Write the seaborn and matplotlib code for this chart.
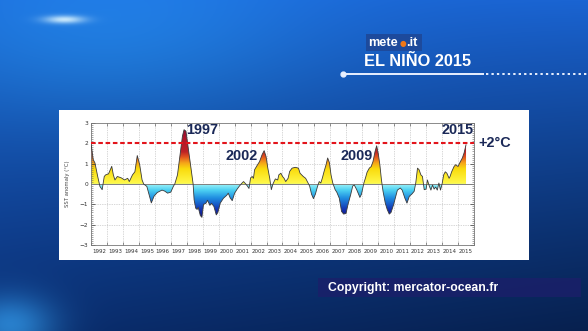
import numpy as np
import pandas as pd
import matplotlib
matplotlib.use("Agg")
import matplotlib.pyplot as plt
from matplotlib.colors import LinearSegmentedColormap
from matplotlib.patches import Rectangle
import seaborn as sns

# ---------------- data ----------------
years = [
    1992.00, 1992.14, 1992.25, 1992.42, 1992.56, 1992.70, 1992.83, 1992.92, 1993.10, 1993.30,
    1993.40, 1993.50, 1993.65, 1993.90, 1994.10, 1994.30, 1994.40, 1994.60, 1994.75, 1994.90,
    1995.05, 1995.20, 1995.30, 1995.50, 1995.65, 1995.78, 1995.95, 1996.15, 1996.45, 1996.62,
    1996.80, 1997.00, 1997.17, 1997.25, 1997.42, 1997.58, 1997.73, 1997.83, 1997.95, 1998.15,
    1998.30, 1998.40, 1998.46, 1998.56, 1998.65, 1998.72, 1998.85, 1998.95, 1999.05, 1999.20,
    1999.30, 1999.45, 1999.55, 1999.70, 1999.85, 1999.95, 2000.10, 2000.30, 2000.50, 2000.60,
    2000.72, 2000.85, 2001.00, 2001.16, 2001.30, 2001.47, 2001.56, 2001.70, 2001.80, 2001.90,
    2002.00, 2002.10, 2002.18, 2002.25, 2002.40, 2002.56, 2002.72, 2002.85, 2002.97, 2003.08,
    2003.20, 2003.30, 2003.40, 2003.55, 2003.70, 2003.77, 2003.90, 2004.00, 2004.10, 2004.20,
    2004.35, 2004.45, 2004.60, 2004.80, 2005.00, 2005.10, 2005.30, 2005.45, 2005.60, 2005.70,
    2005.82, 2005.94, 2006.06, 2006.20, 2006.30, 2006.40, 2006.50, 2006.60, 2006.73, 2006.83,
    2006.94, 2007.04, 2007.15, 2007.30, 2007.40, 2007.56, 2007.70, 2007.83, 2007.98, 2008.10,
    2008.27, 2008.40, 2008.50, 2008.65, 2008.85, 2008.95, 2009.10, 2009.20, 2009.30, 2009.44,
    2009.56, 2009.67, 2009.80, 2009.90, 2010.00, 2010.10, 2010.20, 2010.30, 2010.44, 2010.56,
    2010.69, 2010.80, 2010.96, 2011.10, 2011.20, 2011.38, 2011.50, 2011.67, 2011.80, 2011.95,
    2012.10, 2012.25, 2012.35, 2012.46, 2012.56, 2012.67, 2012.77, 2012.88, 2013.00, 2013.08,
    2013.20, 2013.30, 2013.40, 2013.50, 2013.60, 2013.70, 2013.80, 2013.90, 2014.00, 2014.10,
    2014.20, 2014.30, 2014.44, 2014.50, 2014.60, 2014.75, 2014.85, 2015.00, 2015.10, 2015.27,
    2015.38, 2015.50,
]
anomaly = [
    2.00, 1.20, 1.03, 0.37, -0.12, -0.28, 0.37, 0.45, 0.50, 0.87,
    0.45, 0.20, 0.37, 0.30, 0.20, 0.28, 0.12, 0.45, 0.60, 1.40,
    0.95, 0.20, 0.00, -0.12, -0.55, -0.93, -0.60, -0.42, -0.30, -0.35,
    -0.45, -0.40, -0.10, 0.00, 0.45, 1.43, 2.35, 2.67, 2.60, 1.45,
    0.62, 0.00, -0.77, -1.19, -1.25, -1.15, -1.55, -1.64, -1.00, -0.95,
    -0.80, -1.05, -0.95, -1.10, -1.52, -1.40, -0.94, -0.70, -0.56, -0.45,
    -0.68, -0.82, -0.45, -0.25, -0.10, 0.05, 0.12, 0.00, -0.10, -0.22,
    0.30, 0.37, 0.28, 0.70, 0.90, 1.10, 1.44, 1.64, 1.35, 0.78,
    0.28, -0.28, 0.00, 0.25, 0.20, 0.45, 0.53, 0.37, 0.28, 0.12,
    0.28, 0.62, 0.78, 0.82, 0.78, 0.53, 0.37, 0.28, 0.05, -0.10,
    -0.50, -0.72, -0.50, -0.10, 0.12, 0.05, 0.30, 0.60, 0.95, 1.28,
    1.05, 0.45, 0.05, -0.28, -0.40, -0.70, -1.35, -1.48, -1.45, -1.02,
    -0.53, -0.10, -0.05, -0.28, -0.66, -0.50, 0.05, 0.30, 0.58, 0.78,
    0.86, 1.10, 1.60, 1.88, 1.50, 0.95, 0.20, -0.36, -0.94, -1.25,
    -1.48, -1.40, -1.02, -0.60, -0.30, -0.20, -0.30, -0.70, -0.94, -0.60,
    -0.50, -0.36, 0.05, 0.78, 0.70, 0.45, 0.37, -0.28, -0.25, 0.20,
    -0.10, -0.30, -0.05, -0.25, -0.15, -0.30, 0.05, -0.30, 0.00, 0.45,
    0.60, 0.53, 0.28, 0.37, 0.60, 0.86, 0.95, 0.86, 1.03, 1.28,
    1.53, 1.93,
]
year_labels = [str(y) for y in range(1992, 2016)]
ytick_values = [-3, -2, -1, 0, 1, 2, 3]
threshold = 2.0
event_labels = ["1997", "2002", "2009", "2015"]
event_pos_px = [(202, 130), (242, 156), (357, 156), (458, 130)]

df = pd.DataFrame({"year": years, "anomaly": anomaly})

W, H = 588, 331
fig = plt.figure(figsize=(W / 100, H / 100), dpi=100)

# ---------------- background ----------------
yy, xx = np.mgrid[0:H, 0:W].astype(float)
t = yy / H
top = np.array([26, 100, 210], float)
bot = np.array([10, 46, 112], float)
img = top[None, None, :] * (1 - t[..., None]) + bot[None, None, :] * t[..., None]
shade = 1 - 0.30 * (xx / W) * t
img *= shade[..., None]
broad = np.exp(-(((xx - 110) / 210) ** 2 + ((yy - 40) / 90) ** 2))
img += broad[..., None] * np.array([8, 30, 25])
glow = 0.85 * np.exp(-(((xx - 64) / 20) ** 2 + ((yy - 19) / 4) ** 2))
img = img * (1 - glow[..., None]) + np.array([225, 248, 255]) * glow[..., None]
corner = np.exp(-(((xx - 10) / 45) ** 2 + ((yy - 325) / 30) ** 2))
img += corner[..., None] * np.array([30, 80, 90])
img = np.clip(img, 0, 255) / 255.0

bg = fig.add_axes([0, 0, 1, 1])
bg.imshow(img, extent=[0, W, H, 0], aspect="auto", zorder=0)
bg.set_xlim(0, W)
bg.set_ylim(H, 0)
bg.axis("off")
bg.set_zorder(0)

# white panel
bg.add_patch(Rectangle((59, 110), 470, 150, facecolor="white", edgecolor="none", zorder=1))

# copyright band
bg.add_patch(Rectangle((318, 278), 263, 19, facecolor="#1b1f6a", edgecolor="none", alpha=0.8, zorder=1))
bg.text(328, 288, "Copyright: mercator-ocean.fr", color="white", fontsize=8.8,
        family="Liberation Sans", weight="bold", va="center", ha="left", zorder=2)

# logo and title
bg.add_patch(Rectangle((366, 34), 56, 17, facecolor="#1d4a9c", edgecolor="none", zorder=1))
bg.text(368.5, 43, "mete", color="white", fontsize=9.2, family="Liberation Sans",
        weight="bold", va="center", ha="left", zorder=2)
bg.text(403, 43.8, "●", color="#f07818", fontsize=5.5, family="DejaVu Sans",
        va="center", ha="center", zorder=2)
bg.text(406.5, 43, ".it", color="white", fontsize=9.2, family="Liberation Sans",
        weight="bold", va="center", ha="left", zorder=2)
bg.text(364, 61.5, "EL NIÑO 2015", color="white", fontsize=11.8, family="Liberation Sans",
        weight="bold", va="center", ha="left", zorder=2)
bg.plot([343, 484], [74, 74], color="#e8f0ff", lw=1.4, zorder=2, solid_capstyle="butt")
bg.plot([343], [74], marker="o", ms=3.5, color="#e8f0ff", zorder=2)
bg.plot([486, 588], [74, 74], color="#e8f0ff", lw=1.4, ls=(0, (1.2, 1.6)), zorder=2)

# ---------------- chart ----------------
x0, x1, ytop, ybot = 91, 474, 123, 245
ax = fig.add_axes([x0 / W, 1 - ybot / H, (x1 - x0) / W, (ybot - ytop) / H])
ax.set_zorder(1)
ax.set_facecolor("white")
ax.set_xlim(1992, 2016)
ax.set_ylim(-3, 3)

# gradient fill
vmin, vmax = -1.7, 2.7
def p(v):
    return (v - vmin) / (vmax - vmin)
nodes = [
    (p(-1.7), (0.05, 0.05, 0.45)),
    (p(-1.25), (0.08, 0.20, 0.70)),
    (p(-0.7), (0.12, 0.55, 0.88)),
    (p(-0.3), (0.30, 0.82, 0.95)),
    (p(-0.001), (0.62, 0.95, 0.98)),
    (p(0.001), (1.00, 0.98, 0.30)),
    (p(0.75), (0.98, 0.86, 0.05)),
    (p(1.05), (0.96, 0.64, 0.10)),
    (p(1.35), (0.88, 0.32, 0.12)),
    (p(1.6), (0.74, 0.13, 0.15)),
    (p(2.2), (0.70, 0.09, 0.16)),
    (p(2.7), (0.56, 0.05, 0.20)),
]
cmap = LinearSegmentedColormap.from_list("sst", nodes)
grad = np.linspace(-3, 3, 800).reshape(-1, 1)
im = ax.imshow(grad, extent=[1992, 2016, -3, 3], origin="lower", aspect="auto",
               cmap=cmap, vmin=vmin, vmax=vmax, zorder=1, interpolation="bilinear")
poly = ax.fill_between(df["year"], df["anomaly"], 0, facecolor="none", edgecolor="none")
im.set_clip_path(poly.get_paths()[0], transform=ax.transData)

# grid
for yr in range(1993, 2016):
    ax.axvline(yr, color="#b0b0b0", lw=0.5, ls=(0, (1, 1.5)), zorder=0.5)
for yv in [-2, -1, 1]:
    ax.axhline(yv, color="#b0b0b0", lw=0.5, ls=(0, (1, 1.5)), zorder=0.5)
ax.axhline(0, color="#808080", lw=0.7, zorder=2)

sns.lineplot(data=df, x="year", y="anomaly", ax=ax, color="#3a3a3a", lw=0.6, zorder=3)

ax.axhline(threshold, color="#e3141b", lw=1.5, ls=(0, (2.2, 1.3)), zorder=4)

# ticks
ax.set_xticks(range(1992, 2017))
ax.set_xticklabels([])
ax.set_xticks([y + 0.5 for y in range(1992, 2016)], minor=True)
ax.set_xticklabels(year_labels, minor=True)
ax.tick_params(axis="x", which="major", direction="in", length=2.5, width=0.5,
               top=True, bottom=True, color="#666666")
ax.tick_params(axis="x", which="minor", length=0, labelsize=4, colors="#333333", pad=3)
ax.set_yticks(ytick_values)
ax.set_yticklabels([str(v).replace("-", "−") for v in ytick_values])
ax.set_yticks(np.arange(-3, 3.01, 0.1), minor=True)
ax.tick_params(axis="y", which="major", direction="in", length=3, width=0.5,
               left=True, right=True, labelsize=4.2, colors="#333333", pad=2)
ax.tick_params(axis="y", which="minor", direction="in", length=1.5, width=0.4,
               left=True, right=True, color="#666666")
ax.set_xlabel("")
ax.set_ylabel("SST anomaly (°C)", fontsize=3.8, color="#444444")
ax.yaxis.set_label_coords(-0.055, 0.5)
for s in ax.spines.values():
    s.set_color("#777777")
    s.set_linewidth(0.6)

# annotations on an overlay above the chart
ov = fig.add_axes([0, 0, 1, 1], facecolor="none")
ov.set_xlim(0, W)
ov.set_ylim(H, 0)
ov.axis("off")
ov.set_zorder(2)
for lab, (px, py) in zip(event_labels, event_pos_px):
    ov.text(px, py, lab, color="#1a2857", fontsize=10.4, family="Liberation Sans",
            weight="bold", ha="center", va="center")
ov.text(478, 143, "+2°C", color="#1a2857", fontsize=10.4, family="Liberation Sans",
        weight="bold", ha="left", va="center")

fig.savefig("out.png", dpi=100)
